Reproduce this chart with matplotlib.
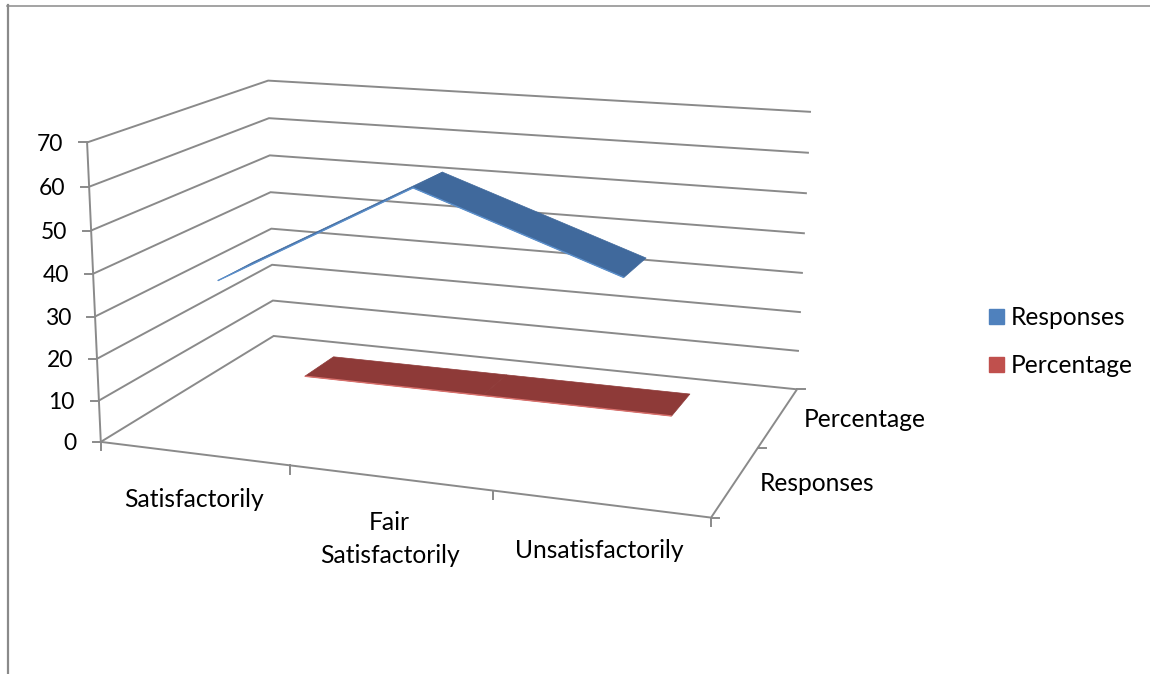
import numpy as np
import matplotlib
matplotlib.use("Agg")
import matplotlib.pyplot as plt
from matplotlib.lines import Line2D
from matplotlib.patches import Patch
from mpl_toolkits.mplot3d.art3d import Poly3DCollection, Line3DCollection

categories = ["Satisfactorily", "Fair\nSatisfactorily", "Unsatisfactorily"]
series_names = ["Responses", "Percentage"]
responses = [37, 62, 46]
percentage = [0.5, 0.5, 0.5]
z_ticks = [0, 10, 20, 30, 40, 50, 60, 70]

W, H = 1150, 674
GREY = "#8A8A8A"
FS = 17.7

# Camera calibration: wall corners in chart units and where they land on the canvas
cal_world = [(0,0,0),(0,0,70),(0,2,0),(0,2,70),(3,2,0),(3,2,70),(3,0,0),
             (0,0,30),(0,2,30),(3,2,30),(1,0,0),(2,0,0)]
cal_canvas = [(101,441.5),(87,142.5),(273.7,335.7),(268.3,80.7),(797,389.3),(811,112),(711,517),
              (95,315.7),(271,229),(803,272.7),(290.7,466.7),(493,491)]


def fit_camera(world, canvas):
    rows = []
    for (x, y, z), (u, v) in zip(world, canvas):
        rows.append([x, y, z, 1, 0, 0, 0, 0, -u*x, -u*y, -u*z, -u])
        rows.append([0, 0, 0, 0, x, y, z, 1, -v*x, -v*y, -v*z, -v])
    return np.linalg.svd(np.array(rows, float))[2][-1].reshape(3, 4)


P = fit_camera(cal_world, cal_canvas)
M = np.vstack([P[0], P[1], [0, 1, 0, 0], P[2]])


def project(x, y, z):
    u, v, w = P @ np.array([x, y, z, 1.0])
    return u / w, v / w


plt.rcParams["font.family"] = "Lato"
fig = plt.figure(figsize=(W/100, H/100), dpi=100)
ax = fig.add_subplot(projection="3d", computed_zorder=False)
ax.set_position([0, 0, 1, 1])
ax.apply_aspect = lambda position=None: None
ax.get_proj = lambda: M
ax.viewLim.intervalx = (0, W)
ax.viewLim.intervaly = (H, 0)
ax.set_axis_off()

LW = 1.4


def lines3d(paths, color, lw, zorder):
    ax.add_collection3d(Line3DCollection(paths, colors=color, linewidths=lw, zorder=zorder,
                                         joinstyle="miter"), autolim=False)


# Wall gridlines run along the left wall, then along the back wall
lines3d([[(0, 0, z), (0, 2, z), (3, 2, z)] for z in z_ticks], GREY, LW, 1)
lines3d([[(0, 0, 0), (0, 0, 70)], [(0, 0, 0), (3, 0, 0), (3, 2, 0)]], GREY, LW, 1)


def tick(x, y, z, dx, dy):
    u, v = project(x, y, z)
    ax.add_artist(Line2D([u, u+dx], [v, v+dy], color=GREY, lw=LW, zorder=1))


for z in z_ticks:
    tick(0, 0, z, -8, 0)
    ax.annotate(str(z), project(0, 0, z), xytext=(-24, -2), textcoords="offset pixels",
                ha="right", va="center", fontsize=16.5, color="black")
for x in range(4):
    tick(x, 0, 0, 0, 8.5)
for y in range(3):
    tick(3, y, 0, 8, 0)

x_centres = [0.5, 1.5, 2.5]
label_drop = [46, 61.5, 47]
for x, name, drop in zip(x_centres, categories, label_drop):
    ax.annotate(name, project(x, 0, 0), xytext=(-0.5, -drop), textcoords="offset pixels",
                ha="center", va="center", fontsize=FS, linespacing=1.54)
for y, name, off in zip([0.5, 1.5], series_names, [(81.5, -3), (86, -2)]):
    ax.annotate(name, project(3, y, 0), xytext=off, textcoords="offset pixels",
                ha="center", va="center", fontsize=FS)


def ribbon(values, y_mid, face, edge, half=0.195):
    y0, y1 = y_mid - half, y_mid + half
    quads = []
    for i in range(len(values) - 1):
        a, b = x_centres[i], x_centres[i+1]
        quads.append([(a, y0, values[i]), (b, y0, values[i+1]), (b, y1, values[i+1]), (a, y1, values[i])])
    ax.add_collection3d(Poly3DCollection(quads, facecolor=face, edgecolor=face, linewidths=0.5, zorder=3),
                        autolim=False)
    lines3d([[(x, y0, v) for x, v in zip(x_centres, values)]], edge, 1.0, 4)


ribbon(responses, 0.5, "#40699C", "#5B8FCB")
ribbon(percentage, 1.5, "#8E3A38", "#D9706C")

handles = [Patch(color="#4F81BD"), Patch(color="#C0504D")]
fig.legend(handles, series_names, loc="center left", bbox_to_anchor=(989/W, 1 - 341.5/H), frameon=False,
           fontsize=FS, handlelength=0.61, handleheight=0.57, handletextpad=0.28, labelspacing=1.03,
           borderpad=0, borderaxespad=0)

fig.add_artist(Line2D([7/W, 1], [1-5.5/H, 1-5.5/H], color=GREY, lw=1.1, transform=fig.transFigure))
fig.add_artist(Line2D([8/W, 8/W], [0, 1-5/H], color=GREY, lw=1.6, transform=fig.transFigure))

fig.savefig("out.png", dpi=100)
